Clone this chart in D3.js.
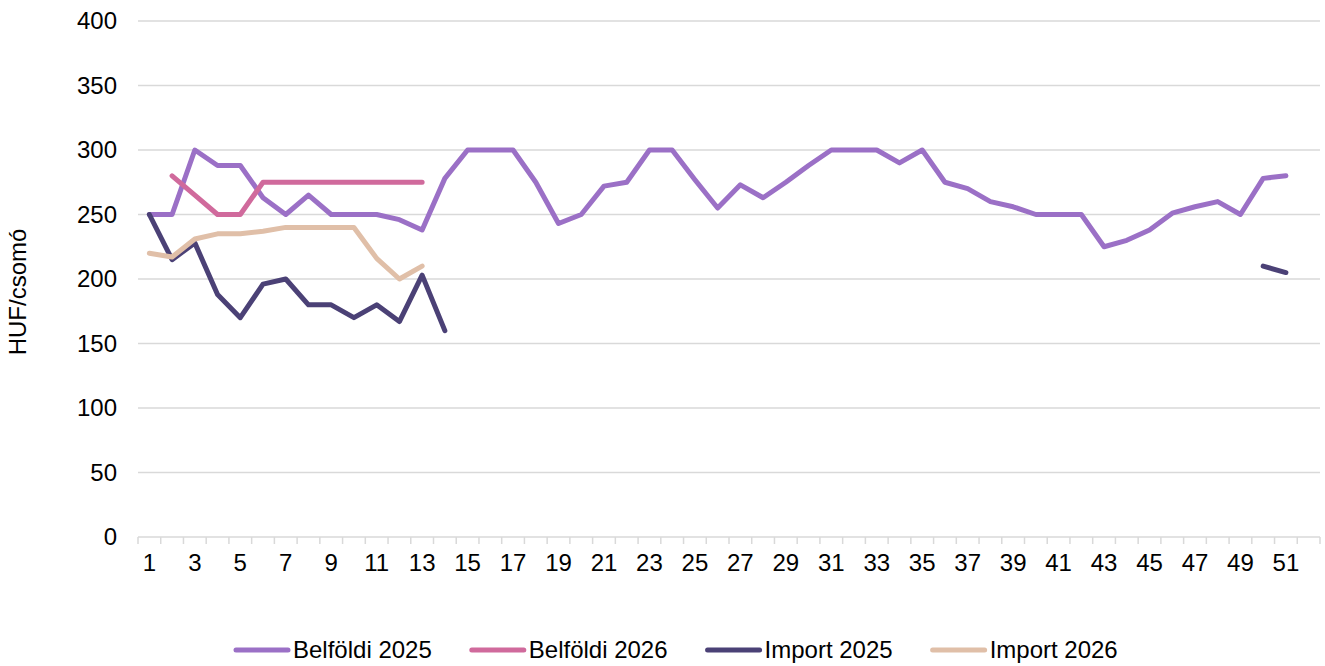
<!DOCTYPE html>
<html>
<head>
<meta charset="utf-8">
<script src="https://cdn.jsdelivr.net/npm/d3@7"></script>
<style>
  html, body { margin: 0; padding: 0; background: #fff; }
  text { font-family: "Liberation Sans", Arial, sans-serif; fill: #000; }
</style>
</head>
<body>
<svg id="chart" width="1325" height="666"></svg>
<script>
// ---- data ----
const weeks = d3.range(1, 53); // 52 categories
const tickLabels = d3.range(1, 52, 2);
const yTicks = [0, 50, 100, 150, 200, 250, 300, 350, 400];
const seriesNames = ["Belföldi 2025", "Belföldi 2026", "Import 2025", "Import 2026"];
const seriesColors = ["#9B70C6", "#D06A9C", "#4B4176", "#E0BFA8"];

const belfoldi2025 = [250, 250, 300, 288, 288, 263, 250, 265, 250, 250, 250, 246, 238, 278, 300, 300, 300, 275, 243, 250,
  272, 275, 300, 300, 277, 255, 273, 263, 275, 288, 300, 300, 300, 290, 300, 275, 270, 260, 256, 250,
  250, 250, 225, 230, 238, 251, 256, 260, 250, 278, 280, null];
const belfoldi2026 = [null, 280, 265, 250, 250, 275, 275, 275, 275, 275, 275, 275, 275];
const import2025 = [250, 215, 228, 188, 170, 196, 200, 180, 180, 170, 180, 167, 203, 160,
  null, null, null, null, null, null, null, null, null, null, null, null, null, null, null, null,
  null, null, null, null, null, null, null, null, null, null, null, null, null, null, null, null,
  null, null, null, 210, 205, null];
const import2026 = [220, 217, 231, 235, 235, 237, 240, 240, 240, 240, 216, 200, 210];

const allSeries = [belfoldi2025, belfoldi2026, import2025, import2026];

// ---- layout ----
const svg = d3.select("#chart");
const mLeft = 138, mRight = 1320, mTop = 21, mBottom = 537;
const fs = 24;
const ff = '"Liberation Sans", Arial, sans-serif';

const x = d3.scaleBand().domain(weeks).range([mLeft, mRight]).padding(0);
const y = d3.scaleLinear().domain([0, 400]).range([mBottom, mTop]);

// gridlines
svg.append("g")
  .selectAll("line")
  .data(yTicks.filter(d => d > 0))
  .join("line")
  .attr("x1", mLeft).attr("x2", mRight)
  .attr("y1", d => y(d)).attr("y2", d => y(d))
  .attr("stroke", "#d9d9d9").attr("stroke-width", 1.5);

// y axis labels
const yAxis = svg.append("g")
  .attr("transform", `translate(${mLeft},0)`)
  .call(d3.axisLeft(y).tickValues(yTicks).tickSize(0).tickPadding(21));
yAxis.select(".domain").remove();
yAxis.selectAll("text").style("font-size", fs + "px").style("font-family", ff).attr("fill", "#000");

// x axis
const xAxis = svg.append("g")
  .attr("transform", `translate(0,${mBottom})`)
  .call(d3.axisBottom(x).tickValues(tickLabels).tickSize(0).tickPadding(17));
xAxis.select(".domain").remove();
xAxis.selectAll("text").style("font-size", fs + "px").style("font-family", ff).attr("fill", "#000");

svg.append("line")
  .attr("x1", mLeft).attr("x2", mRight)
  .attr("y1", mBottom).attr("y2", mBottom)
  .attr("stroke", "#d9d9d9").attr("stroke-width", 1.5);
// category boundary tick marks
svg.append("g")
  .selectAll("line")
  .data(weeks.concat([null]))
  .join("line")
  .attr("x1", (d, i) => mLeft + i * x.bandwidth())
  .attr("x2", (d, i) => mLeft + i * x.bandwidth())
  .attr("y1", mBottom).attr("y2", mBottom + 7)
  .attr("stroke", "#d9d9d9").attr("stroke-width", 1.5);

// y title
svg.append("text")
  .attr("transform", `translate(26,292) rotate(-90)`)
  .attr("text-anchor", "middle")
  .style("font-size", fs + "px")
  .text("HUF/csomó");

// lines
const line = d3.line()
  .defined(d => d.v != null)
  .x(d => x(d.w) + x.bandwidth() / 2)
  .y(d => y(d.v));

allSeries.forEach((s, i) => {
  const pts = weeks.map((w, j) => ({ w: w, v: j < s.length ? s[j] : null }));
  svg.append("path")
    .datum(pts)
    .attr("d", line)
    .attr("fill", "none")
    .attr("stroke", seriesColors[i])
    .attr("stroke-width", 5)
    .attr("stroke-linejoin", "round")
    .attr("stroke-linecap", "round");
});

// legend
const legend = svg.append("g");
const swW = 52, gapText = 7, gapItem = 38, ly = 650;
let items = [];
seriesNames.forEach((n, i) => {
  const g = legend.append("g");
  g.append("line").attr("x1", 2).attr("x2", swW + 2).attr("y1", 0).attr("y2", 0)
    .attr("stroke", seriesColors[i]).attr("stroke-width", 5).attr("stroke-linecap", "round");
  const t = g.append("text").attr("x", swW + gapText).attr("y", 0).attr("dy", "0.35em")
    .style("font-size", fs + "px").text(n);
  const w = swW + gapText + t.node().getComputedTextLength();
  items.push({ g, w });
});
let start = 234;
items.forEach(it => {
  it.g.attr("transform", `translate(${start},${ly})`);
  start += it.w + gapItem;
});
</script>
</body>
</html>
